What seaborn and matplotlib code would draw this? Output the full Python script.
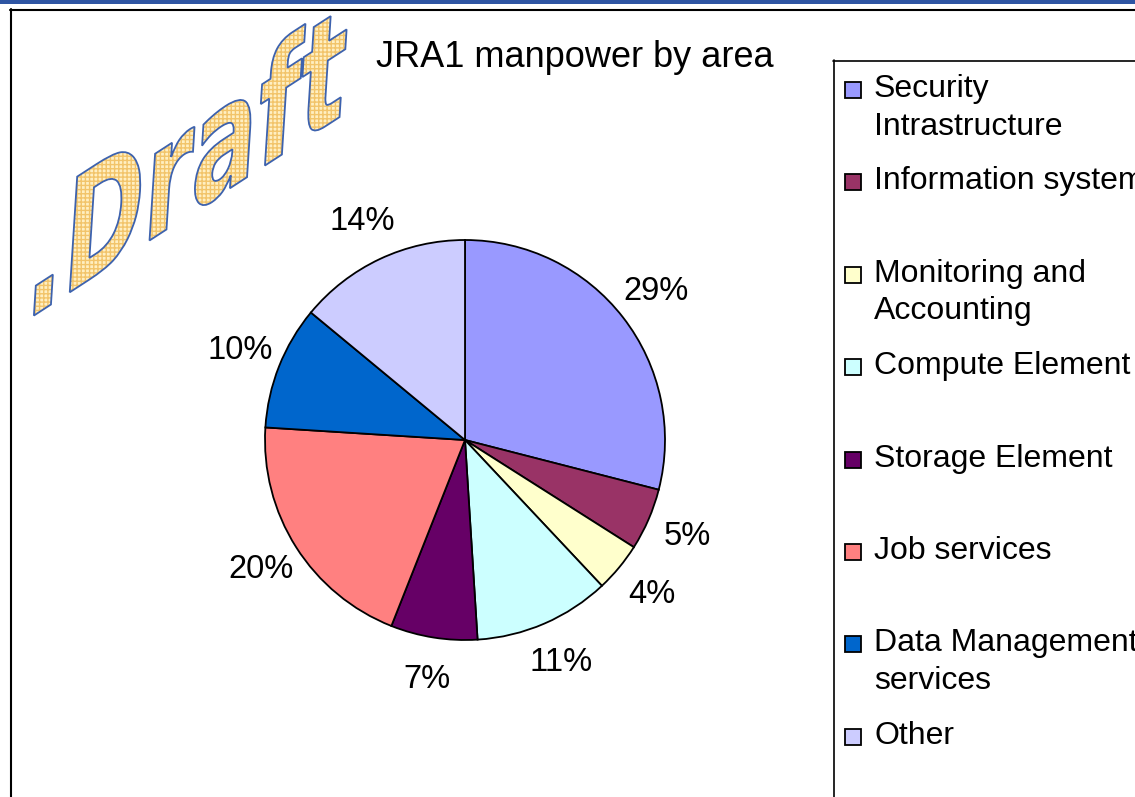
import matplotlib
matplotlib.use("Agg")
import matplotlib.pyplot as plt
import seaborn as sns
from matplotlib.patches import Rectangle, PathPatch
from matplotlib.textpath import TextPath
from matplotlib.font_manager import FontProperties
from matplotlib.transforms import Affine2D

# Data
areas = [
    "Security\nIntrastructure",
    "Information system",
    "Monitoring and\nAccounting",
    "Compute Element",
    "Storage Element",
    "Job services",
    "Data Management\nservices",
    "Other",
]
shares = [29, 5, 4, 11, 7, 20, 10, 14]
colors = ["#9999FF", "#993366", "#FFFFCC", "#CCFFFF",
          "#660066", "#FF8080", "#0066CC", "#CCCCFF"]

title = "JRA1 manpower by area"

sns.set_theme(style="white")
plt.rcParams["font.family"] = ["Liberation Sans", "DejaVu Sans"]

W, H = 1135, 797
fig = plt.figure(figsize=(W / 100, H / 100), dpi=100)
fig.patch.set_facecolor("white")

# overlay axes in pixel coordinates for frame, title, legend, watermark
bg = fig.add_axes([0, 0, 1, 1])
bg.set_xlim(0, W)
bg.set_ylim(H, 0)
bg.axis("off")

bg.add_patch(Rectangle((0, 0), W, 4, color="#2E55A3", lw=0))
bg.plot([10, W + 5], [9.5, 9.5], color="black", lw=1.5)
bg.plot([10.5, 10.5], [9, H + 5], color="black", lw=1.5)

# legend box
bg.plot([833.5, 833.5], [60, H + 5], color="black", lw=1.2)
bg.plot([833, W + 5], [60.5, 60.5], color="black", lw=1.2)

bg.text(575, 57, title, fontsize=26, ha="center", va="center", color="black")

# draft watermark (WordArt-like, sheared text)
fp = FontProperties(family="DejaVu Sans", weight="bold")
tp = TextPath((0, 0), ".Draft", size=100, prop=fp)
tr = (Affine2D().skew_deg(6, 0).scale(0.97, -1.52)
      .skew_deg(0, -33).translate(24, 322))
path = tr.transform_path(tp)
bg.add_patch(PathPatch(path, facecolor="#FFEFC2", edgecolor="#F2C46A",
                       hatch="++++", lw=0, zorder=1))
bg.add_patch(PathPatch(path, facecolor="none", edgecolor="#3D62AE",
                       lw=1.3, zorder=2))

# pie chart: center (465, 440), radius 200 px
r = 200
span = 1.25 * r
ax = fig.add_axes([(465 - span) / W, (H - 440 - span) / H, 2 * span / W, 2 * span / H])
wedges, texts, autotexts = ax.pie(
    shares, colors=colors, startangle=90, counterclock=False,
    autopct="%1.0f%%", pctdistance=1.21,
    wedgeprops=dict(edgecolor="black", linewidth=1.3),
    textprops=dict(fontsize=23.5, color="black"),
)
ax.set_xlim(-1.25, 1.25)
ax.set_ylim(-1.25, 1.25)
ax.set_aspect("equal")

# legend entries
for i, (lab, col) in enumerate(zip(areas, colors)):
    y = 90 + 92.4 * i
    bg.add_patch(Rectangle((845, y - 8), 16, 16, facecolor=col,
                           edgecolor="black", lw=1.3))
    bg.text(874, y - 16, lab, fontsize=23, ha="left", va="top",
            linespacing=1.33, color="black")

fig.savefig("out.png", dpi=100)
